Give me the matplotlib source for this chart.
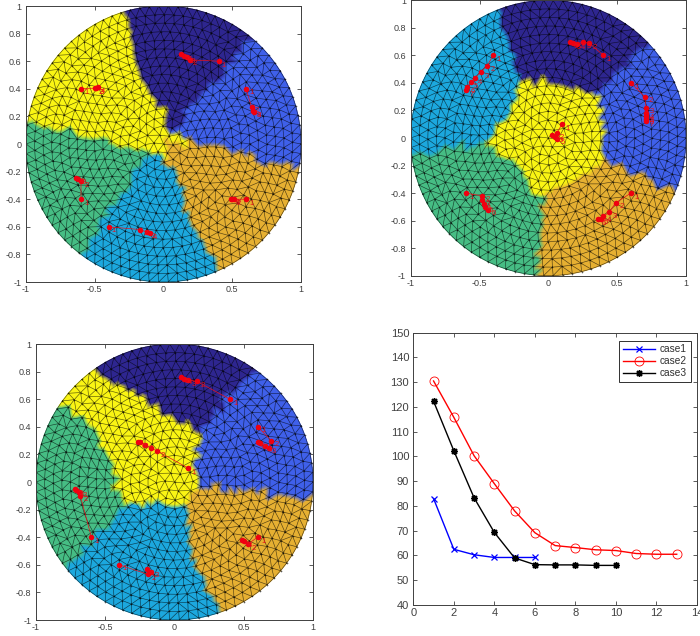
import numpy as np
import matplotlib
matplotlib.use("Agg")
import matplotlib.pyplot as plt
from matplotlib.colors import LinearSegmentedColormap
from matplotlib.path import Path
from matplotlib.tri import Triangulation, UniformTriRefiner

plt.rcParams['font.family'] = ['Liberation Sans', 'DejaVu Sans']

W, H = 700, 636
TEXT = '#404040'
REGION_COLORS = ['#2e2690', '#3f60ea', '#1ca8de', '#46bd84', '#e6b032', '#faf514']
cmap = LinearSegmentedColormap.from_list('regions', REGION_COLORS)

# region outlines, (label, polygon); what no polygon catches gets the last label
regions1 = [
    (0, [(-0.4, 1.2), (-0.31, 0.95), (-0.16, 0.56), (-0.05, 0.32), (0.05, 0.09), (0.63, 0.755), (0.8, 0.95), (0.8, 1.5), (-0.4, 1.5)]),
    (1, [(0.05, 0.09), (0.8, 0.95), (0.8, 1.5), (1.5, 1.5), (1.5, -0.28), (0.98, -0.18), (0.73, -0.12), (0.39, -0.04), (0.05, 0.05)]),
    (4, [(0.02, 0.03), (0.39, -0.04), (0.73, -0.12), (1.5, -0.28), (1.5, -1.5), (0.6, -1.4), (0.39, -0.915), (0.24, -0.6), (0.12, -0.33), (0.02, -0.09)]),
    (2, [(0.02, -0.09), (0.12, -0.33), (0.24, -0.6), (0.39, -0.915), (0.6, -1.4), (-1.0, -1.4), (-0.6, -0.77), (-0.36, -0.43), (-0.12, -0.07)]),
    (3, [(-0.12, -0.07), (-0.36, -0.43), (-0.6, -0.77), (-1.5, -1.4), (-1.5, 0.22), (-0.99, 0.16), (-0.58, 0.05), (-0.17, -0.04)]),
]
rest1 = 5
regions2 = [
    (0, [(-0.45, 1.2), (-0.375, 0.915), (-0.18, 0.43), (0.0, 0.395), (0.23, 0.345), (0.35, 0.33), (0.71, 0.66), (1.0, 1.0), (1.0, 1.5), (-0.45, 1.5)]),
    (5, [(-0.18, 0.43), (-0.25, 0.3), (-0.41, -0.04), (-0.25, -0.21), (-0.04, -0.45), (0.375, -0.19), (0.4, 0.03), (0.375, 0.27), (0.35, 0.33), (0.23, 0.345), (0.0, 0.395)]),
    (1, [(0.35, 0.33), (0.71, 0.66), (1.0, 1.0), (1.5, 1.0), (1.5, -0.6), (0.92, -0.39), (0.67, -0.26), (0.375, -0.19), (0.4, 0.03), (0.375, 0.27)]),
    (4, [(-0.04, -0.45), (0.375, -0.19), (0.67, -0.26), (0.92, -0.39), (1.5, -0.6), (1.5, -1.5), (-0.1, -1.5), (-0.085, -1.0), (-0.04, -0.57)]),
    (3, [(-0.41, -0.04), (-0.25, -0.21), (-0.04, -0.45), (-0.04, -0.57), (-0.085, -1.0), (-0.1, -1.5), (-1.5, -1.5), (-1.5, -0.18), (-1.0, -0.14), (-0.69, -0.08)]),
]
rest2 = 2
regions3 = [
    (0, [(-0.7, 1.0), (-0.55, 0.82), (-0.47, 0.74), (-0.25, 0.67), (-0.1, 0.52), (0.065, 0.44), (0.16, 0.35), (0.475, 0.74), (0.6, 0.8), (0.9, 1.2), (0.9, 1.5), (-0.7, 1.5)]),
    (1, [(0.16, 0.35), (0.475, 0.74), (0.6, 0.8), (0.9, 1.2), (1.5, 1.2), (1.5, -0.15), (1.0, -0.11), (0.79, -0.08), (0.43, -0.06), (0.19, -0.01), (0.16, 0.135)]),
    (4, [(0.19, -0.01), (0.43, -0.06), (0.79, -0.08), (1.0, -0.11), (1.5, -0.15), (1.5, -1.5), (0.5, -1.5), (0.31, -0.95), (0.16, -0.59), (0.065, -0.18)]),
    (2, [(0.065, -0.18), (0.16, -0.59), (0.31, -0.95), (0.5, -1.5), (-1.5, -1.5), (-0.77, -0.6), (-0.56, -0.37), (-0.345, -0.155), (-0.1, -0.18)]),
    (3, [(-1.5, -1.5), (-0.77, -0.6), (-0.56, -0.37), (-0.345, -0.155), (-0.44, 0.06), (-0.61, 0.38), (-0.83, 0.56), (-1.5, 1.0)]),
]
rest3 = 5

# particle tracks, first point is the start
tracks1 = [
    [(0.4, 0.6), (0.19, 0.61), (0.17, 0.63), (0.15, 0.64), (0.13, 0.65)],
    [(0.6, 0.4), (0.64, 0.27), (0.65, 0.24), (0.655, 0.235)],
    [(0.6, -0.4), (0.51, -0.4), (0.49, -0.395), (0.5, -0.395)],
    [(-0.4, -0.6), (-0.17, -0.62), (-0.12, -0.64), (-0.1, -0.645)],
    [(-0.6, -0.4), (-0.6, -0.27), (-0.62, -0.25), (-0.635, -0.245)],
    [(-0.6, 0.4), (-0.5, 0.405), (-0.49, 0.405), (-0.48, 0.41)],
]
tracks2 = [
    [(0.4, 0.6), (0.295, 0.69), (0.25, 0.695), (0.21, 0.685), (0.18, 0.69), (0.155, 0.695)],
    [(0.6, 0.4), (0.7, 0.3), (0.71, 0.22), (0.71, 0.18), (0.71, 0.16), (0.71, 0.14), (0.71, 0.125)],
    [(0.6, -0.4), (0.49, -0.47), (0.44, -0.54), (0.4, -0.57), (0.38, -0.585), (0.36, -0.59)],
    [(-0.6, -0.4), (-0.48, -0.42), (-0.48, -0.45), (-0.47, -0.48), (-0.46, -0.5), (-0.44, -0.52)],
    [(-0.4, 0.6), (-0.445, 0.525), (-0.49, 0.48), (-0.535, 0.435), (-0.565, 0.405), (-0.59, 0.37), (-0.6, 0.345)],
    [(0.1, 0.1), (0.06, 0.035), (0.05, 0.01), (0.03, 0.02), (0.065, -0.005)],
]
tracks3 = [
    [(0.4, 0.6), (0.16, 0.73), (0.1, 0.74), (0.07, 0.75), (0.05, 0.76)],
    [(0.6, 0.4), (0.7, 0.3), (0.68, 0.25), (0.65, 0.26), (0.62, 0.28), (0.6, 0.29)],
    [(0.6, -0.4), (0.53, -0.45), (0.5, -0.43), (0.49, -0.42)],
    [(-0.4, -0.6), (-0.19, -0.67), (-0.17, -0.65), (-0.2, -0.63)],
    [(-0.6, -0.4), (-0.68, -0.1), (-0.69, -0.07), (-0.71, -0.06), (-0.715, -0.05)],
    [(0.1, 0.1), (-0.125, 0.225), (-0.17, 0.245), (-0.21, 0.27), (-0.25, 0.29), (-0.26, 0.29)],
]

iterations1 = [1, 2, 3, 4, 5, 6]
iterations2 = [1, 2, 3, 4, 5, 6, 7, 8, 9, 10, 11, 12, 13]
iterations3 = [1, 2, 3, 4, 5, 6, 7, 8, 9, 10]
case1 = [83, 62.5, 60.3, 59.2, 59.2, 59.2]
case2 = [130.5, 115.8, 100.3, 89, 78, 69.2, 64, 63.2, 62.3, 62, 60.8, 60.5, 60.5]
case3 = [122.3, 102.3, 83.3, 69.3, 59, 56.3, 56.2, 56.2, 56, 56]


def px_axes(fig, left, right, top, bottom):
    return fig.add_axes([left / W, 1 - bottom / H, (right - left) / W, (bottom - top) / H])


def style_axes(ax):
    ax.tick_params(direction='in', top=True, right=True, length=3, width=0.6,
                   labelsize=6.5, colors=TEXT, pad=2.5)
    ax.tick_params(axis='y', pad=3.5)
    for s in ax.spines.values():
        s.set_linewidth(0.7)
        s.set_color(TEXT)


def disk_mesh():
    # concentric rings with shifted starts
    step = 0.062
    xs, ys = [0.0], [0.0]
    for j, r in enumerate(np.arange(1.0, 0.03, -step)):
        n = int(round(2 * np.pi * r / (step * 1.12)))
        th = np.linspace(0, 2 * np.pi, n, endpoint=False) + j * 0.9
        xs.extend(r * np.cos(th))
        ys.extend(r * np.sin(th))
    return np.array(xs), np.array(ys)


def disk_panel(ax, regions, rest, tracks):
    x, y = disk_mesh()
    tri = Triangulation(x, y)
    # label each triangle by its centre so the borders follow the mesh edges
    centre = np.column_stack([x[tri.triangles].mean(axis=1), y[tri.triangles].mean(axis=1)])
    labels = np.full(len(centre), rest, dtype=float)
    for lab, poly in reversed(regions):
        labels[Path(poly).contains_points(centre)] = lab
    fine, fine_index = UniformTriRefiner(tri).refine_triangulation(subdiv=1, return_tri_index=True)
    fine_labels = labels[fine_index]
    ax.grid(True, color='#e4e4e4', linewidth=0.6)
    ax.set_axisbelow(True)
    ax.tripcolor(fine, fine_labels, shading='gouraud', cmap=cmap, vmin=0, vmax=5)
    ax.triplot(tri, color='black', linewidth=0.45, alpha=0.65)
    ax.plot(x, y, 'o', color='black', markersize=1.2, alpha=0.65, markeredgewidth=0)
    for t in tracks:
        t = np.array(t)
        ax.plot(t[:, 0], t[:, 1], '-', color='#e8101a', linewidth=0.5)
        ax.plot(t[:, 0], t[:, 1], 'o', color='#f00010', markersize=4, markeredgewidth=0)
        for i, (px, py) in enumerate(t):
            ax.text(px + 0.025, py - 0.03, str(i + 1), color='#e8101a', fontsize=5.5,
                    ha='left', va='center')
    ax.set_xlim(-1, 1)
    ax.set_ylim(-1, 1)
    ax.set_xticks([-1, -0.5, 0, 0.5, 1])
    ax.set_xticklabels(['-1', '-0.5', '0', '0.5', '1'])
    ax.set_yticks(np.arange(-1, 1.01, 0.2))
    ax.set_yticklabels(['-1', '-0.8', '-0.6', '-0.4', '-0.2', '0', '0.2', '0.4', '0.6', '0.8', '1'])
    style_axes(ax)


fig = plt.figure(figsize=(W / 100, H / 100), dpi=100)

disk_panel(px_axes(fig, 26, 301, 6, 282), regions1, rest1, tracks1)
disk_panel(px_axes(fig, 410.7, 686, 0.3, 275.7), regions2, rest2, tracks2)
disk_panel(px_axes(fig, 36, 313, 344, 620), regions3, rest3, tracks3)

ax = px_axes(fig, 413.3, 697, 332.7, 605)
ax.plot(iterations1, case1, '-x', color='#0000ff', linewidth=1.0, markersize=4, markeredgewidth=0.9, label='case1')
ax.plot(iterations2, case2, '-o', color='#ff0000', linewidth=1.0, markersize=6.5, markeredgewidth=0.6,
        markerfacecolor='none', label='case2')
ax.plot(iterations3, case3, '-', marker=(8, 2, 0), color='black', linewidth=1.0, markersize=5, markeredgewidth=1.0, label='case3')
ax.set_xlim(0, 14)
ax.set_ylim(40, 150)
ax.set_xticks(range(0, 15, 2))
ax.set_yticks(range(40, 151, 10))
style_axes(ax)
ax.tick_params(labelsize=8, length=3)
ax.tick_params(axis='y', pad=3)
leg = ax.legend(loc='upper right', bbox_to_anchor=(0.978, 0.97), borderaxespad=0, fontsize=7.3, fancybox=False,
                edgecolor='#303030', framealpha=1, handlelength=3.2, labelspacing=0.18,
                handletextpad=0.5, borderpad=0.35)
leg.get_frame().set_linewidth(0.7)
for t in leg.get_texts():
    t.set_color('#303030')

fig.savefig('out.png', dpi=100)
